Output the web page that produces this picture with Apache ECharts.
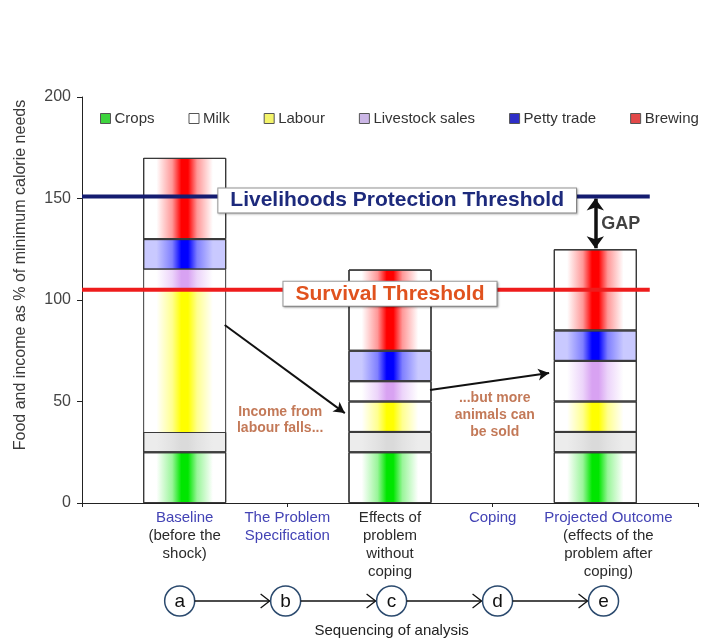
<!DOCTYPE html>
<html>
<head>
<meta charset="utf-8">
<script src="https://cdn.jsdelivr.net/npm/echarts@6/dist/echarts.min.js"></script>
<style>
  html, body { margin: 0; padding: 0; background: #fff; }
  #chart { width: 701px; height: 638px; }
</style>
</head>
<body>
<div id="chart"></div>
<script>
// Stages of the analysis (empty slots pad the axis at both ends)
const stages = ['', 'a', 'b', 'c', 'd', 'e', ''];
const stageLabels = [
  '',
  '{b|Baseline}\n(before the\nshock)',
  '{b|The Problem}\n{b|Specification}',
  'Effects of\nproblem\nwithout\ncoping',
  '{b|Coping}',
  '{pb|Projected Outcome}\n{p|(effects of the}\n{p|problem after}\n{p|coping)}',
  ''
];
const stepLetters = ['a', 'b', 'c', 'd', 'e'];

// Income sources, % of minimum calorie needs
const sources = ['Crops', 'Milk', 'Labour', 'Livestock sales', 'Petty trade', 'Brewing'];
const crops      = ['-', 25, '-', 25, '-', 25, '-'];
const milk       = ['-', 10, '-', 10, '-', 10, '-'];
const labour     = ['-', 70, '-', 15, '-', 15, '-'];
const livestock  = ['-', 10, '-', 10, '-', 20, '-'];
const pettyTrade = ['-', 15, '-', 15, '-', 15, '-'];
const brewing    = ['-', 40, '-', 40, '-', 40, '-'];

const yTicks = [0, 50, 100, 150, 200];

// Thresholds
const livelihoodsThreshold = 151;
const survivalThreshold = 105;
const thresholdSpan = [0, 5.53];
const livelihoodsLabelAt = 3.07;
const survivalLabelAt = 3.0;

// Annotation arrows [from, to] in axis units
const labourArrow = [[1.39, 87.7], [2.56, 44.3]];
const livestockArrow = [[3.39, 55.7], [4.55, 64]];
const gapStage = 5;

const seriesData = [crops, milk, labour, livestock, pettyTrade, brewing];
const totals = stages.map((_, i) => {
  let s = 0, any = false;
  seriesData.forEach(arr => { if (arr[i] !== '-') { s += arr[i]; any = true; } });
  return any ? s : '-';
});

function band(edge, mid, centre) {
  return new echarts.graphic.LinearGradient(0, 0, 1, 0, [
    { offset: 0, color: edge },
    { offset: 0.16, color: edge },
    { offset: 0.35, color: mid },
    { offset: 0.46, color: centre },
    { offset: 0.54, color: centre },
    { offset: 0.65, color: mid },
    { offset: 0.84, color: edge },
    { offset: 1, color: edge }
  ]);
}

const fills = [
  band('#ffffff', '#9af59a', '#00e600'),
  band('#ececec', '#e2e2e2', '#dadada'),
  band('#ffffff', '#ffff90', '#ffff00'),
  band('#ffffff', '#ecd4fa', '#d8a2f2'),
  band('#c9c9ff', '#8080ff', '#0000ff'),
  band('#ffffff', '#ff9898', '#ff0000')
];
const legendColors = ['#3ed43e', '#ffffff', '#f4f46a', '#cbb6e6', '#2e2ec8', '#e24848'];

const border = { borderColor: '#3a3a3a', borderWidth: 1 };

const barSeries = sources.map((name, k) => ({
  name,
  type: 'bar',
  stack: 'income',
  barWidth: 83,
  xAxisIndex: 0,
  itemStyle: Object.assign({ color: fills[k] }, border),
  emphasis: { disabled: true },
  data: seriesData[k].map((v, i) => {
    // no dividing line between labour and livestock in the baseline bar
    if (i === 1 && (name === 'Labour' || name === 'Livestock sales')) {
      return { value: v, itemStyle: { borderWidth: 0 } };
    }
    return v;
  }),
  z: 2
}));

const labelFont = 'Liberation Sans, Arial, sans-serif';

function thresholdSeries(name, value, labelAt, color, textColor, width) {
  return {
    name,
    type: 'line',
    xAxisIndex: 1,
    symbol: 'circle',
    symbolSize: 0,
    showSymbol: true,
    silent: true,
    lineStyle: { color, width },
    z: 5,
    data: [
      [thresholdSpan[0], value],
      {
        value: [labelAt, value],
        label: {
          show: true,
          position: 'inside',
          offset: [0, 4],
          formatter: name,
          fontFamily: labelFont,
          fontWeight: 'bold',
          fontSize: 21,
          color: textColor,
          backgroundColor: '#ffffff',
          borderColor: '#9c9c9c',
          borderWidth: 1,
          padding: [2, 12, 1, 12],
          shadowColor: 'rgba(0,0,0,0.25)',
          shadowBlur: 2,
          shadowOffsetX: 1,
          shadowOffsetY: 1
        }
      },
      [thresholdSpan[1], value]
    ]
  };
}

function textNote(text, at, pos) {
  return {
    type: 'scatter',
    xAxisIndex: 1,
    symbolSize: 0,
    silent: true,
    z: 6,
    data: [{
      value: at,
      label: Object.assign({
        show: true,
        formatter: text,
        fontFamily: labelFont,
        fontWeight: 'bold'
      }, pos)
    }]
  };
}

const chart = echarts.init(document.getElementById('chart'), null, { renderer: 'canvas' });

const option = {
  animation: false,
  backgroundColor: '#ffffff',
  textStyle: { fontFamily: labelFont },
  grid: { left: 82, right: 2, top: 97, bottom: 135, containLabel: false },
  legend: {
    top: 106,
    left: 95,
    width: 640,
    itemWidth: 10,
    itemHeight: 10,
    itemGap: 34,
    icon: 'rect',
    selectedMode: false,
    textStyle: { fontSize: 15, color: '#333', fontFamily: labelFont, padding: [0, 0, 0, -1] },
    data: sources.map((name, k) => ({
      name,
      itemStyle: { color: legendColors[k], borderColor: '#555', borderWidth: 1 }
    }))
  },
  xAxis: [
    {
      type: 'category',
      data: stages,
      boundaryGap: false,
      axisLine: { lineStyle: { color: '#222', width: 1 } },
      axisTick: { show: true, interval: 1, length: 4, lineStyle: { color: '#222' } },
      axisLabel: {
        interval: 0,
        margin: 6,
        fontSize: 15,
        lineHeight: 18,
        color: '#2a2a2a',
        fontFamily: labelFont,
        formatter: (v, i) => stageLabels[i],
        rich: {
          b: { fontSize: 15, lineHeight: 18, color: '#4343b5', fontFamily: labelFont },
          pb: { fontSize: 15, lineHeight: 18, color: '#4343b5', fontFamily: labelFont, padding: [0, 0, 0, 26] },
          p: { fontSize: 15, lineHeight: 18, color: '#2a2a2a', fontFamily: labelFont, padding: [0, 0, 0, 26] }
        }
      },
      splitLine: { show: false }
    },
    {
      type: 'value',
      min: 0,
      max: stages.length - 1,
      show: false
    }
  ],
  yAxis: {
    type: 'value',
    min: yTicks[0],
    max: yTicks[yTicks.length - 1],
    interval: yTicks[1] - yTicks[0],
    name: 'Food and income as % of minimum calorie needs',
    nameLocation: 'middle',
    nameGap: 53,
    nameTextStyle: { fontSize: 16, color: '#3a3a3a', fontFamily: labelFont, padding: [0, 0, 0, 50] },
    axisLine: { show: true, lineStyle: { color: '#222', width: 1 } },
    axisTick: { show: true, length: 5, lineStyle: { color: '#222' } },
    axisLabel: { fontSize: 16, color: '#444', margin: 11, fontFamily: labelFont },
    splitLine: { show: false }
  },
  series: [
    ...barSeries,
    {
      name: 'outline',
      type: 'bar',
      barWidth: 83,
      barGap: '-100%',
      xAxisIndex: 0,
      silent: true,
      itemStyle: { color: 'rgba(0,0,0,0)', borderColor: '#3a3a3a', borderWidth: 1 },
      data: totals,
      z: 3
    },
    thresholdSeries('Livelihoods Protection Threshold', livelihoodsThreshold, livelihoodsLabelAt, '#141c70', '#1d2a7c', 4),
    thresholdSeries('Survival Threshold', survivalThreshold, survivalLabelAt, '#ee1c1c', '#e0521e', 4),
    {
      name: 'arrows',
      type: 'line',
      xAxisIndex: 1,
      data: [],
      silent: true,
      markLine: {
        silent: true,
        animation: false,
        symbol: ['none', 'arrow'],
        symbolSize: [9, 11],
        label: { show: false },
        lineStyle: { color: '#111', width: 2, type: 'solid' },
        data: [
          [{ coord: labourArrow[0] }, { coord: labourArrow[1] }],
          [{ coord: livestockArrow[0] }, { coord: livestockArrow[1] }],
          [
            { coord: [gapStage, livelihoodsThreshold - 1], symbol: 'arrow', symbolSize: [13, 12], lineStyle: { width: 3.5 } },
            { coord: [gapStage, totals[gapStage] + 0.5], symbol: 'arrow', symbolSize: [13, 12] }
          ]
        ]
      },
      z: 7
    },
    textNote('GAP', [gapStage, (livelihoodsThreshold + totals[gapStage]) / 2 - 0.5],
      { position: 'right', distance: 6, fontSize: 18, color: '#111' }),
    textNote('Income from\nlabour falls...', [1.93, 40.9],
      { position: 'inside', fontSize: 14, lineHeight: 16, color: '#b4582e', align: 'center' }),
    textNote('...but more\nanimals can\nbe sold', [4.02, 43.3],
      { position: 'inside', fontSize: 14, lineHeight: 17, color: '#b4582e', align: 'center' })
  ]
};

chart.setOption(option);

// Sequencing row under the axis: circled step letters joined by arrows
const rowY = 601, r = 15;
const stepX = stepLetters.map((_, i) => chart.convertToPixel({ xAxisIndex: 1 }, i + 1) - 5 + i * 3.3);
const elements = [];
stepX.forEach((x, i) => {
  elements.push({
    type: 'circle',
    shape: { cx: x, cy: rowY, r },
    style: { fill: '#fff', stroke: '#2b4a6e', lineWidth: 1.5 },
    z: 10
  });
  elements.push({
    type: 'text',
    x, y: rowY + 1,
    style: { text: stepLetters[i], fontSize: 19, fill: '#111', align: 'center', verticalAlign: 'middle', fontFamily: labelFont },
    z: 11
  });
  if (i < stepX.length - 1) {
    const x0 = x + r, x1 = stepX[i + 1] - r - 1;
    elements.push({
      type: 'polyline',
      shape: { points: [[x0, rowY], [x1, rowY]] },
      style: { stroke: '#111', lineWidth: 1.3 },
      z: 10
    });
    elements.push({
      type: 'polyline',
      shape: { points: [[x1 - 9, rowY - 7], [x1, rowY], [x1 - 9, rowY + 7]] },
      style: { stroke: '#111', lineWidth: 1.3, fill: null },
      z: 10
    });
  }
});
elements.push({
  type: 'text',
  x: (stepX[0] + stepX[stepX.length - 1]) / 2,
  y: 631,
  style: { text: 'Sequencing of analysis', fontSize: 15, fill: '#222', align: 'center', verticalAlign: 'middle', fontFamily: labelFont },
  z: 10
});
chart.setOption({ graphic: { elements } });
</script>
</body>
</html>
